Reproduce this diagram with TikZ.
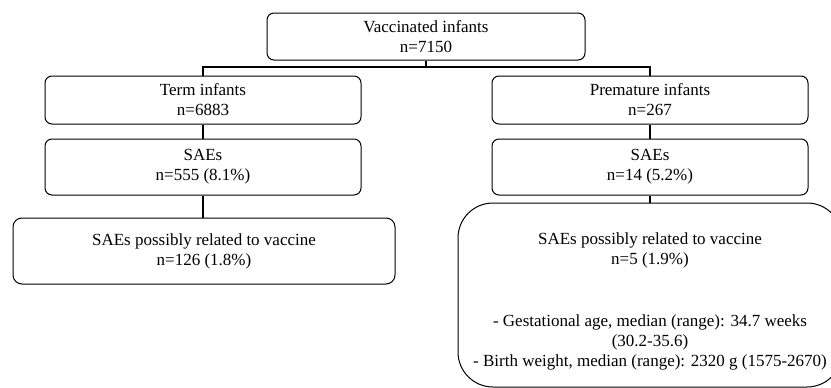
\documentclass[tikz,border=0pt]{standalone}
\usepackage{fontspec}
\setmainfont{Liberation Serif}
\begin{document}
\begin{tikzpicture}[x=1pt,y=-1pt,
  txt/.style={align=center, font=\fontsize{17}{20}\selectfont, inner sep=0pt},
  box/.style={txt, draw, line width=1pt, rounded corners=7pt},
  link/.style={line width=2pt}]
\useasboundingbox (0,0) rectangle (831,388);
\clip (0,0) rectangle (831,388);
\node[box, minimum width=318pt, minimum height=47pt] (top) at (426,36.5) {Vaccinated infants\\n=7150};
\node[box, minimum width=316pt, minimum height=48pt] (term) at (203,100) {Term infants\\n=6883};
\node[box, minimum width=316pt, minimum height=48pt] (prem) at (650,100) {Premature infants\\n=267};
\node[box, minimum width=316pt, minimum height=56pt] (saeL) at (203,167) {SAEs\\n=555 (8.1\%)};
\node[box, minimum width=316pt, minimum height=56pt] (saeR) at (650,167) {SAEs\\n=14 (5.2\%)};
\node[box, minimum width=382pt, minimum height=66pt, rounded corners=9pt] (relL) at (204,251) {SAEs possibly related to vaccine\\n=126 (1.8\%)};
\node[box, minimum width=384pt, minimum height=184pt, rounded corners=35pt] (relR) at (650,295) {};
\node[txt] (relRtext) at (650,301) {SAEs possibly related to vaccine\\n=5 (1.9\%)\\[42pt]- Gestational age, median (range): 34.7 weeks\\(30.2-35.6)\\- Birth weight, median (range): 2320 g (1575-2670)};
\draw[link] (top.south) -- ++(0,6) coordinate (split);
\draw[link] (term.north) |- (split) -| (prem.north);
\draw[link] (term) -- (saeL);
\draw[link] (prem) -- (saeR);
\draw[link] (saeL.south) -- (saeL.south |- relL.north);
\draw[link] (saeR) -- (relR);
\end{tikzpicture}
\end{document}
